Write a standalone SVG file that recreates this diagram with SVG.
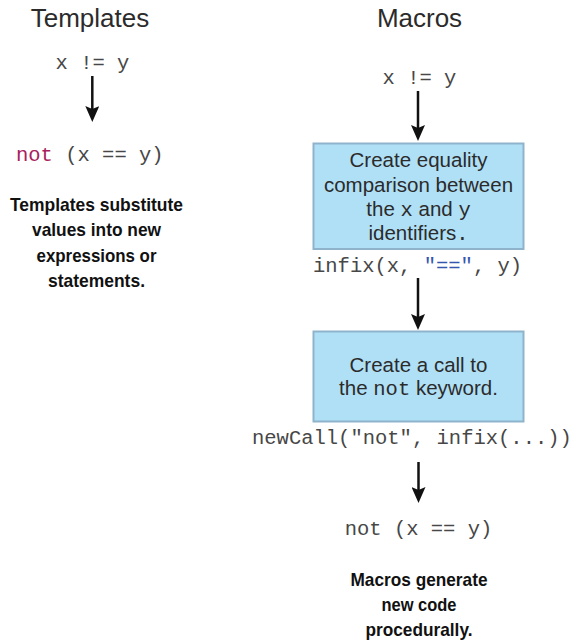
<svg xmlns="http://www.w3.org/2000/svg" width="577" height="642" viewBox="0 0 577 642">
<style>
.title{font-family:"Liberation Sans",Arial,sans-serif;font-size:26px;fill:#2b2b2b;text-anchor:middle}
.code{font-family:"Liberation Mono","Courier New",monospace;font-size:20.5px;fill:#474747}
.kw{fill:#a8215e}
.str{fill:#3556b0}
.box{fill:#b0e0f6;stroke:#8fb3cb;stroke-width:2}
.bt{font-family:"Liberation Sans",Arial,sans-serif;font-size:20.5px;fill:#2b2b2b;text-anchor:middle}
.mono{font-family:"Liberation Mono","Courier New",monospace}
.note{font-family:"Liberation Sans",Arial,sans-serif;font-weight:bold;font-size:18.5px;fill:#111;text-anchor:middle}
.arrow{stroke:#111;stroke-width:2.5;fill:none;marker-end:url(#ah)}
</style>
<defs>
<marker id="ah" markerUnits="userSpaceOnUse" viewBox="0 0 16 14" markerWidth="16" markerHeight="14" refX="6" refY="7" orient="auto">
<path d="M0,0 L16,7 L0,14 L3,7 Z" fill="#111"/>
</marker>
</defs>

<g id="title-templates"><text class="title" x="90" y="27">Templates</text></g>
<g id="title-macros"><text class="title" x="419.5" y="27">Macros</text></g>

<g id="t-input"><text class="code" x="92.5" y="69" text-anchor="middle">x != y</text></g>
<g id="t-output"><text class="code" x="16" y="161"><tspan class="kw">not</tspan> (x == y)</text></g>
<g id="t-note">
<text class="note" x="96.5" y="211" textLength="173" lengthAdjust="spacingAndGlyphs">Templates substitute</text>
<text class="note" x="96.5" y="236.3" textLength="129" lengthAdjust="spacingAndGlyphs">values into new</text>
<text class="note" x="96.5" y="261.6" textLength="120" lengthAdjust="spacingAndGlyphs">expressions or</text>
<text class="note" x="96.5" y="287" textLength="97" lengthAdjust="spacingAndGlyphs">statements.</text>
</g>

<g id="m-input"><text class="code" x="419.5" y="84" text-anchor="middle">x != y</text></g>

<g id="m-box1">
<rect class="box" x="313.5" y="143.5" width="210" height="105.5"/>
<text class="bt" x="418.5" y="167.3">Create equality</text>
<text class="bt" x="418.5" y="191.7">comparison between</text>
<text class="bt" x="418.5" y="216">the <tspan class="mono">x</tspan> and <tspan class="mono">y</tspan></text>
<text class="bt" x="418.5" y="240">identifiers<tspan class="mono">.</tspan></text>
</g>
<g id="m-infix"><text class="code" x="313" y="272">infix(x, <tspan class="str">"=="</tspan>, y)</text></g>

<g id="m-box2">
<rect class="box" x="313.5" y="331.5" width="210" height="90"/>
<text class="bt" x="418.5" y="371.7">Create a call to</text>
<text class="bt" x="418.5" y="395">the <tspan class="mono">not</tspan> keyword.</text>
</g>
<g id="m-newcall"><text class="code" x="252" y="444">newCall("not", infix(...))</text></g>

<g id="m-output"><text class="code" x="418.5" y="535" text-anchor="middle">not (x == y)</text></g>
<g id="m-note">
<text class="note" x="419" y="586" textLength="137" lengthAdjust="spacingAndGlyphs">Macros generate</text>
<text class="note" x="419" y="611" textLength="75" lengthAdjust="spacingAndGlyphs">new code</text>
<text class="note" x="419" y="636" textLength="107" lengthAdjust="spacingAndGlyphs">procedurally.</text>
</g>

<g id="connectors">
<line class="arrow" x1="92.3" y1="76" x2="92.3" y2="112"/>
<line class="arrow" x1="418" y1="91" x2="418" y2="131"/>
<line class="arrow" x1="418" y1="278" x2="418" y2="320"/>
<line class="arrow" x1="418.5" y1="462" x2="418.5" y2="493"/>
</g>
</svg>
